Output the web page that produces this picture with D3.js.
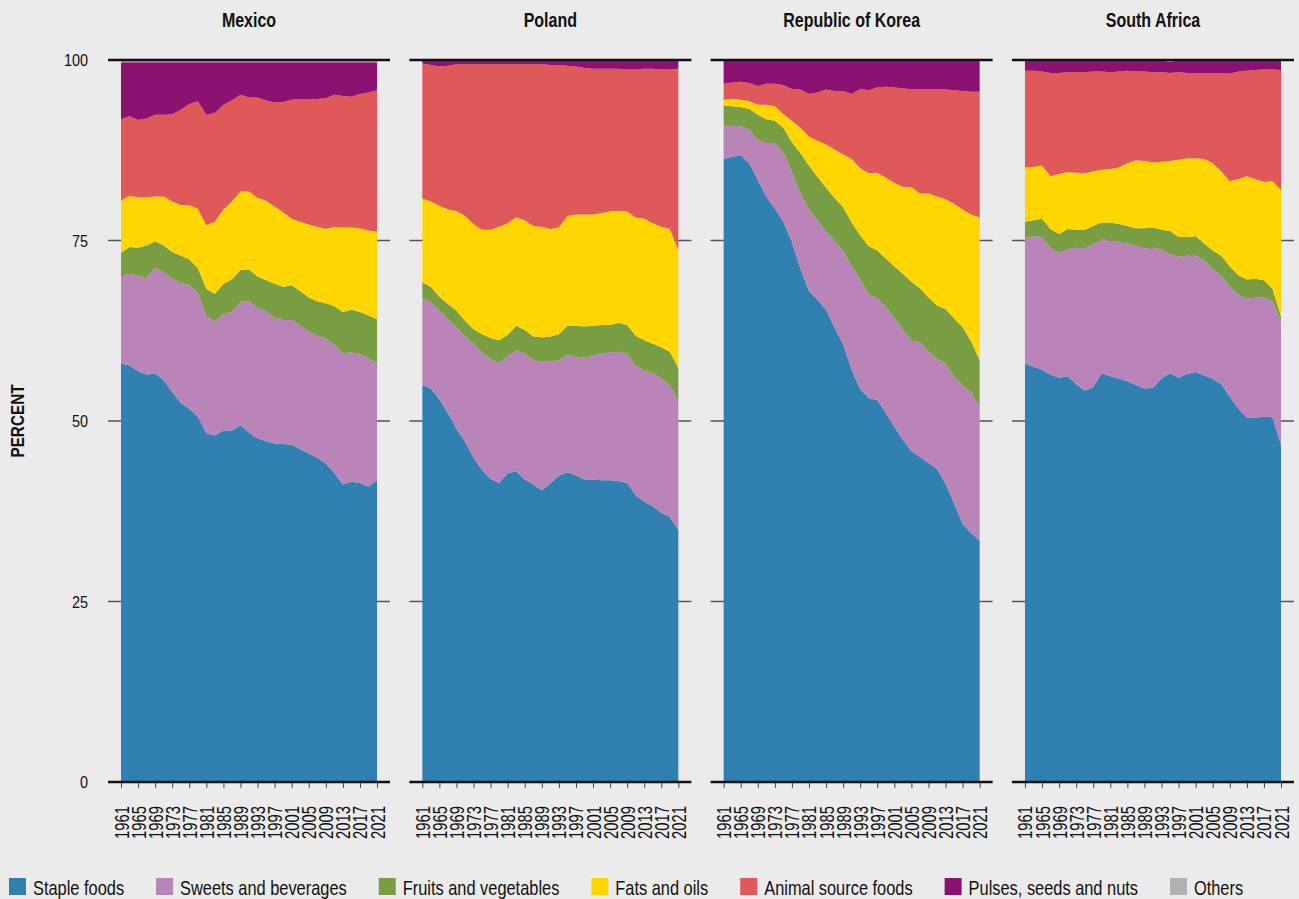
<!DOCTYPE html>
<html>
<head>
<meta charset="utf-8">
<script src="https://cdn.jsdelivr.net/npm/d3@7"></script>
<style>
body { margin: 0; background: #ebebeb; }
text { font-family: "Liberation Sans", Arial, sans-serif; fill: #111; }
</style>
</head>
<body>
<svg id="chart" width="1299" height="899"></svg>
<script>
// years (every second year)
var years = [1961,1963,1965,1967,1969,1971,1973,1975,1977,1979,1981,1983,1985,1987,1989,1991,
             1993,1995,1997,1999,2001,2003,2005,2007,2009,2011,2013,2015,2017,2019,2021];
var tickYears = [1961,1965,1969,1973,1977,1981,1985,1989,1993,1997,2001,2005,2009,2013,2017,2021];
var yTicks = [0, 25, 50, 75, 100];

var countries = ["Mexico", "Poland", "Republic of Korea", "South Africa"];
var keys = ["staple", "sweets", "fruits", "fats", "animal", "pulses", "others"];
var legendLabels = ["Staple foods", "Sweets and beverages", "Fruits and vegetables", "Fats and oils",
                    "Animal source foods", "Pulses, seeds and nuts", "Others"];
var colors = ["#3180b2", "#b984b8", "#789d43", "#ffd600", "#df585a", "#8c1271", "#b0b2b2"];

// Mexico
var mexicoStaple = [58.0,57.7,56.9,56.4,56.6,55.6,54.0,52.5,51.7,50.6,48.3,48.0,48.7,48.7,49.4,48.4,47.6,47.2,46.9,46.8,46.7,46.1,45.5,44.9,44.1,42.8,41.2,41.6,41.4,40.9,41.8];
var mexicoSweets = [12.0,12.7,13.2,13.5,14.6,15.0,15.7,16.6,17.1,17.2,16.2,15.8,16.1,16.4,17.1,18.2,18.0,18.0,17.4,17.2,17.3,17.1,16.9,16.9,17.3,17.8,18.2,17.9,17.9,17.8,16.2];
var mexicoFruits = [3.3,3.7,3.9,4.4,3.7,3.7,3.7,3.8,3.6,3.4,3.8,3.8,4.2,4.5,4.4,4.4,4.4,4.3,4.7,4.6,4.8,4.8,4.7,4.8,4.9,5.3,5.7,5.9,5.8,5.9,6.1];
var mexicoFats = [7.2,7.1,7.0,6.7,6.2,6.8,7.0,7.0,7.5,8.2,8.8,10.0,10.3,10.8,10.9,10.8,10.9,11.0,10.7,10.3,9.2,9.6,10.1,10.3,10.3,11.0,11.7,11.4,11.6,11.8,12.1];
var mexicoAnimal = [11.3,11.0,10.7,10.9,11.3,11.3,12.1,13.2,14.0,14.9,15.3,15.1,14.5,14.0,13.4,13.0,13.9,13.9,14.4,15.3,16.5,17.0,17.4,17.7,18.1,18.3,18.2,18.1,18.6,19.1,19.6];
var mexicoPulses = [7.9,7.5,8.0,7.8,7.3,7.3,7.2,6.6,5.8,5.4,7.3,7.0,5.9,5.3,4.5,4.9,4.9,5.3,5.6,5.5,5.2,5.1,5.1,5.1,5.0,4.5,4.7,4.8,4.4,4.2,3.9];
var mexicoOthers = [0.3,0.3,0.3,0.3,0.3,0.3,0.3,0.3,0.3,0.3,0.3,0.3,0.3,0.3,0.3,0.3,0.3,0.3,0.3,0.3,0.3,0.3,0.3,0.3,0.3,0.3,0.3,0.3,0.3,0.3,0.3];

// Poland
var polandStaple = [55.0,54.5,53.0,51.1,48.9,47.2,44.9,43.2,42.0,41.4,42.8,43.0,41.9,41.2,40.4,41.3,42.4,42.9,42.5,41.9,41.9,41.8,41.8,41.7,41.4,39.7,38.8,38.2,37.3,36.7,34.9];
var polandSweets = [12.0,11.9,12.3,13.0,14.1,14.6,15.8,16.3,16.6,16.6,16.2,16.8,17.4,17.3,17.8,16.9,16.0,16.3,16.4,16.9,17.1,17.6,17.7,17.9,17.9,17.9,18.2,18.4,18.6,18.3,17.8];
var polandFruits = [2.2,2.2,1.9,2.1,2.3,2.1,2.0,2.5,2.9,3.2,2.9,3.4,3.3,3.2,3.4,3.5,3.6,4.0,4.3,4.3,4.2,3.9,3.8,4.0,4.0,4.2,4.2,4.1,4.3,4.6,4.6];
var polandFats = [11.6,11.8,12.6,13.1,13.8,14.5,14.6,14.5,15.0,15.7,15.5,15.0,15.2,15.3,15.3,14.9,14.8,15.2,15.4,15.5,15.4,15.5,15.7,15.5,15.7,16.4,16.8,16.7,16.7,17.0,16.4];
var polandAnimal = [18.7,18.9,19.3,19.9,20.3,21.0,22.1,22.9,22.9,22.5,22.0,21.2,21.6,22.4,22.5,22.7,22.5,20.8,20.5,20.3,20.2,20.0,19.8,19.7,19.7,20.5,20.8,21.4,21.8,22.1,25.1];
var polandPulses = [0.4,0.6,0.8,0.7,0.5,0.5,0.5,0.5,0.5,0.5,0.5,0.5,0.5,0.5,0.5,0.6,0.6,0.7,0.8,1.0,1.1,1.1,1.1,1.1,1.2,1.2,1.1,1.1,1.2,1.2,1.1];
var polandOthers = [0.1,0.1,0.1,0.1,0.1,0.1,0.1,0.1,0.1,0.1,0.1,0.1,0.1,0.1,0.1,0.1,0.1,0.1,0.1,0.1,0.1,0.1,0.1,0.1,0.1,0.1,0.1,0.1,0.1,0.1,0.1];

// Republic of Korea
var koreaStaple = [86.3,86.6,86.8,85.7,83.4,81.1,79.4,77.6,74.8,71.1,68.0,66.8,65.4,62.9,60.6,57.1,54.4,53.2,52.9,51.1,49.2,47.4,45.8,45.0,44.2,43.4,41.3,38.6,35.7,34.5,33.4];
var koreaSweets = [4.5,4.3,4.0,4.7,5.5,7.4,9.1,9.6,9.7,10.4,11.4,11.0,10.8,12.1,12.9,14.4,15.2,14.4,14.1,14.7,15.1,15.2,15.3,15.9,15.5,15.2,16.7,17.6,19.3,19.5,18.5];
var koreaFruits = [2.9,2.7,2.7,2.8,3.5,3.3,3.1,3.4,4.1,5.6,6.0,6.0,6.1,5.9,6.1,6.0,6.1,6.6,6.6,6.7,7.1,7.8,8.2,7.5,7.4,7.4,7.5,8.0,8.0,7.0,6.5];
var koreaFats = [0.8,1.0,1.0,1.1,1.4,2.0,2.0,1.9,3.0,3.5,4.0,5.0,6.0,6.7,7.3,8.8,9.3,10.1,10.8,11.2,11.6,12.0,13.1,13.1,14.4,15.1,15.2,15.9,16.3,17.6,19.8];
var koreaAnimal = [2.2,2.3,2.5,2.5,2.6,2.9,3.1,4.0,4.4,5.3,5.9,6.7,7.6,8.1,8.8,9.0,11.0,11.5,11.8,12.6,13.2,13.7,13.5,14.5,14.5,14.9,15.2,15.7,16.4,17.0,17.4];
var koreaPulses = [3.2,3.0,2.9,3.1,3.5,3.2,3.2,3.4,3.9,4.0,4.6,4.4,4.0,4.2,4.2,4.6,3.9,4.1,3.7,3.6,3.7,3.8,4.0,3.9,3.9,3.9,4.0,4.1,4.2,4.3,4.3];
var koreaOthers = [0.1,0.1,0.1,0.1,0.1,0.1,0.1,0.1,0.1,0.1,0.1,0.1,0.1,0.1,0.1,0.1,0.1,0.1,0.1,0.1,0.1,0.1,0.1,0.1,0.1,0.1,0.1,0.1,0.1,0.1,0.1];

// South Africa
var saStaple = [58.0,57.5,57.1,56.4,56.0,56.2,55.1,54.2,54.7,56.6,56.2,55.9,55.5,55.0,54.5,54.6,55.9,56.6,56.0,56.5,56.8,56.3,55.8,55.1,53.4,51.7,50.5,50.5,50.6,50.5,46.7];
var saSweets = [17.3,18.1,18.4,17.6,17.3,17.6,18.9,19.7,19.7,18.6,18.8,18.9,19.1,19.2,19.4,19.4,17.9,16.5,16.8,16.4,16.1,16.0,15.2,15.1,15.3,15.8,16.4,16.6,16.5,16.1,17.1];
var saFruits = [2.3,2.2,2.5,2.6,2.6,2.8,2.5,2.6,2.6,2.3,2.5,2.5,2.4,2.5,2.8,2.8,2.7,3.2,2.7,2.6,2.7,2.3,2.6,2.7,2.7,2.7,2.7,2.6,2.4,1.7,0.7];
var saFats = [7.5,7.4,7.4,7.3,8.3,7.9,7.9,7.8,7.6,7.3,7.4,7.8,8.7,9.4,9.3,9.0,9.4,9.7,10.7,10.9,10.8,11.7,12.1,11.7,11.8,13.3,14.3,13.8,13.6,14.9,17.5];
var saAnimal = [13.4,13.3,13.0,14.3,14.0,13.8,13.9,14.0,13.8,13.6,13.4,13.3,12.8,12.3,12.4,12.5,12.4,12.2,12.1,11.8,11.8,11.9,12.5,13.6,14.9,14.9,14.6,15.1,15.6,15.5,16.6];
var saPulses = [1.4,1.4,1.5,1.7,1.7,1.6,1.6,1.6,1.5,1.5,1.6,1.5,1.4,1.5,1.5,1.6,1.6,1.6,1.6,1.7,1.7,1.7,1.7,1.7,1.8,1.5,1.4,1.3,1.2,1.2,1.3];
var saOthers = [0.1,0.1,0.1,0.1,0.1,0.1,0.1,0.1,0.1,0.1,0.1,0.1,0.1,0.1,0.1,0.1,0.1,0.1,0.1,0.1,0.1,0.1,0.1,0.1,0.1,0.1,0.1,0.1,0.1,0.1,0.1];

var countrySeries = {
  "Mexico": [mexicoStaple, mexicoSweets, mexicoFruits, mexicoFats, mexicoAnimal, mexicoPulses, mexicoOthers],
  "Poland": [polandStaple, polandSweets, polandFruits, polandFats, polandAnimal, polandPulses, polandOthers],
  "Republic of Korea": [koreaStaple, koreaSweets, koreaFruits, koreaFats, koreaAnimal, koreaPulses, koreaOthers],
  "South Africa": [saStaple, saSweets, saFruits, saFats, saAnimal, saPulses, saOthers]
};

// squeeze text to look like the condensed face of the original
function condense(sel, factor) {
  sel.each(function() {
    var w = this.getComputedTextLength();
    d3.select(this).attr("textLength", w * factor).attr("lengthAdjust", "spacingAndGlyphs");
  });
}

var svg = d3.select("#chart");
svg.append("rect").attr("width", 1299).attr("height", 899).attr("fill", "#ebebeb");

var y = d3.scaleLinear().domain([0, 100]).range([782, 60]);
var panel = d3.scaleBand().domain(countries).range([108, 1294]).paddingInner(0.064);
var bw = panel.bandwidth();
var x = d3.scaleLinear().domain([1961, 2021]).range([13, bw - 13]);
var color = d3.scaleOrdinal().domain(keys).range(colors);

// y labels
svg.append("g").selectAll("text")
  .data(yTicks)
  .enter().append("text")
    .attr("x", 88)
    .attr("y", function(d) { return y(d) + 6; })
    .attr("text-anchor", "end")
    .style("font-size", "17px")
    .text(function(d) { return d; })
    .call(condense, 0.85);

svg.append("text")
  .attr("transform", "translate(24,421) rotate(-90)")
  .attr("text-anchor", "middle")
  .style("font-size", "18px")
  .style("font-weight", "bold")
  .text("PERCENT")
  .call(condense, 0.85);

var area = d3.area()
  .x(function(d) { return x(d.data.year); })
  .y0(function(d) { return y(d[0]); })
  .y1(function(d) { return y(d[1]); });

countries.forEach(function(c) {
  var g = svg.append("g").attr("transform", "translate(" + panel(c) + ",0)");
  var arrs = countrySeries[c];

  // grid lines (only visible at the panel edges)
  g.selectAll(".grid")
    .data([25, 50, 75])
    .enter().append("line")
      .attr("x1", 0).attr("x2", bw)
      .attr("y1", function(d) { return y(d); })
      .attr("y2", function(d) { return y(d); })
      .attr("stroke", "#555").attr("stroke-width", 1.5);

  var table = years.map(function(yr, i) {
    var row = { year: yr };
    keys.forEach(function(k, j) { row[k] = arrs[j][i]; });
    return row;
  });
  var stacked = d3.stack().keys(keys)(table);

  g.selectAll(".layer")
    .data(stacked)
    .enter().append("path")
      .attr("class", "layer")
      .attr("fill", function(d) { return color(d.key); })
      .attr("d", area);

  // bottom axis ticks
  var axis = d3.axisBottom(x).tickValues(tickYears).tickSize(6).tickFormat(d3.format("d"));
  var ax = g.append("g").attr("transform", "translate(0," + y(0) + ")").call(axis);
  ax.select(".domain").remove();
  ax.selectAll(".tick line").attr("stroke", "#444");
  ax.selectAll(".tick text")
    .attr("transform", "rotate(-90)")
    .attr("x", -24).attr("y", 0).attr("dy", "0.35em")
    .style("text-anchor", "end")
    .style("font-size", "20px")
    .style("font-family", "'Liberation Sans', Arial, sans-serif")
    .attr("fill", "#111")
    .attr("textLength", 33).attr("lengthAdjust", "spacingAndGlyphs");

  // top and bottom rules
  g.selectAll(".rule")
    .data([0, 100])
    .enter().append("line")
      .attr("x1", 0).attr("x2", bw)
      .attr("y1", function(d) { return y(d); })
      .attr("y2", function(d) { return y(d); })
      .attr("stroke", "#111").attr("stroke-width", 2.6);

  g.append("text")
    .attr("x", bw / 2).attr("y", 27)
    .attr("text-anchor", "middle")
    .style("font-size", "20px")
    .style("font-weight", "bold")
    .text(c)
    .call(condense, 0.8);
});

// legend
var lg = svg.append("g");
var lx = 9;
keys.forEach(function(k, i) {
  lg.append("rect").attr("x", lx).attr("y", 878).attr("width", 17).attr("height", 17).attr("fill", colors[i]);
  var t = lg.append("text").attr("x", lx + 24).attr("y", 895)
    .style("font-size", "21px").text(legendLabels[i]);
  var w = t.node().getComputedTextLength() * 0.78;
  t.attr("textLength", w).attr("lengthAdjust", "spacingAndGlyphs");
  lx += 24 + w + 32;
});
</script>
</body>
</html>
